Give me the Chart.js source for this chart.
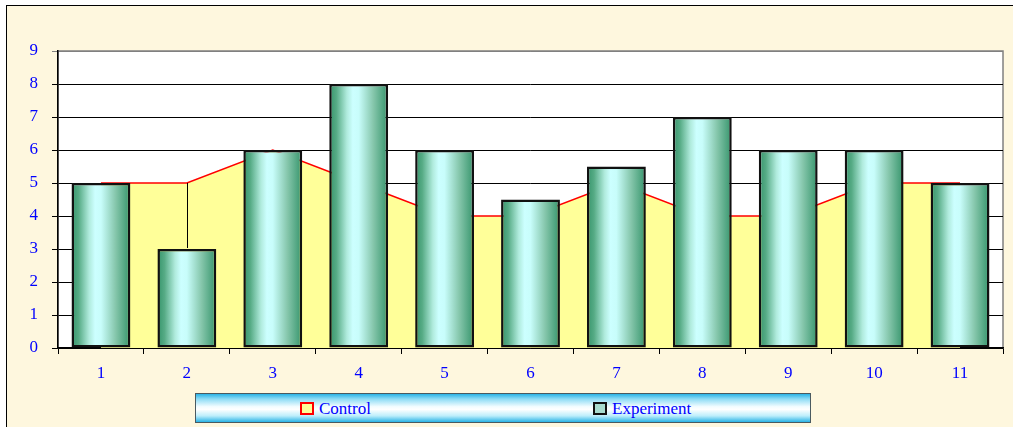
<!DOCTYPE html>
<html>
<head>
<meta charset="utf-8">
<script src="https://cdn.jsdelivr.net/npm/chart.js@4/dist/chart.umd.min.js"></script>
<style>
    body { margin: 0; background: #ffffff; overflow: hidden; }
    #frame {
        position: absolute; left: 6px; top: 5px; width: 1020px; height: 440px;
        border-top: 1px solid #000; border-left: 1px solid #000;
        background: #fef7de;
    }
    #chart { position: absolute; left: 0; top: 0; }
    #legend {
        position: absolute; left: 195px; top: 393px; width: 614px; height: 28px;
        border: 1px solid #4a5a60;
        background: linear-gradient(to bottom, #2ab3e6 0%, #8fdcf5 18%, #f2fcff 45%, #ffffff 55%, #bdeefb 78%, #2ab3e6 100%);
        font-family: 'Liberation Serif', 'Times New Roman', serif;
        font-size: 17px; color: #0000ff;
    }
    .item { position: absolute; top: 5px; line-height: 19px; }
    .swatch { position: absolute; top: 8px; width: 10px; height: 9px; }
</style>
</head>
<body>
<div id="frame"></div>
<canvas id="chart" width="1013" height="427"></canvas>
<div id="legend">
    <div class="swatch" style="left:104px; background:#ffff99; border:2px solid #ff0000;"></div>
    <div class="item" style="left:123px;">Control</div>
    <div class="swatch" style="left:397px; background:#a8dccf; border:2px solid #111;"></div>
    <div class="item" style="left:416px;">Experiment</div>
</div>
<script>
const categories = ['1', '2', '3', '4', '5', '6', '7', '8', '9', '10', '11'];
const controlValues = [5, 5, 6, 5, 4, 4, 5, 4, 4, 5, 5];
const experimentValues = [5, 3, 6, 8, 6, 4.5, 5.5, 7, 6, 6, 5];
const yTicks = [0, 1, 2, 3, 4, 5, 6, 7, 8, 9];

const tickFont = { family: "'Liberation Serif', 'Times New Roman', serif", size: 17 };
const barPct = 0.685;

// cylinder-like shading across each bar
function barGradient(context) {
    const chart = context.chart;
    const xScale = chart.scales.x;
    if (!chart.chartArea || !xScale) return '#8fd0b8';
    const center = xScale.getPixelForValue(context.dataIndex);
    const half = (xScale.width / categories.length) * barPct / 2;
    const g = chart.ctx.createLinearGradient(center - half, 0, center + half, 0);
    g.addColorStop(0, '#35946b');
    g.addColorStop(0.12, '#56ab85');
    g.addColorStop(0.3, '#b0ebdd');
    g.addColorStop(0.4, '#ccffff');
    g.addColorStop(0.5, '#c8fdfb');
    g.addColorStop(0.75, '#85c6ab');
    g.addColorStop(1, '#35946b');
    return g;
}

// white plot area with grey frame
const plotBackground = {
    id: 'plotBackground',
    beforeDraw(chart) {
        const { ctx, chartArea: a } = chart;
        ctx.save();
        ctx.fillStyle = '#ffffff';
        ctx.fillRect(a.left, a.top, a.right - a.left, a.bottom - a.top);
        ctx.strokeStyle = '#808080';
        ctx.lineWidth = 1.5;
        ctx.strokeRect(a.left, a.top, a.right - a.left, a.bottom - a.top);
        ctx.restore();
    }
};

// thin black line between the two series at category 2
const dropLine = {
    id: 'dropLine',
    afterDatasetsDraw(chart) {
        const { ctx, scales } = chart;
        const i = 1;
        const x = Math.round(scales.x.getPixelForValue(i)) + 0.5;
        ctx.save();
        ctx.strokeStyle = '#000';
        ctx.lineWidth = 1;
        ctx.beginPath();
        ctx.moveTo(x, scales.y.getPixelForValue(controlValues[i]));
        ctx.lineTo(x, scales.y.getPixelForValue(experimentValues[i]) - 1);
        ctx.stroke();
        ctx.restore();
    }
};

new Chart(document.getElementById('chart'), {
    type: 'bar',
    data: {
        labels: categories,
        datasets: [
            {
                label: 'Experiment',
                data: experimentValues,
                backgroundColor: barGradient,
                borderColor: '#111',
                borderWidth: 2.5,
                borderSkipped: false,
                barPercentage: barPct,
                categoryPercentage: 1,
                order: 0
            },
            {
                type: 'line',
                label: 'Control',
                data: controlValues,
                borderColor: '#ff0000',
                borderWidth: 1.5,
                backgroundColor: '#ffff99',
                fill: 'origin',
                pointRadius: 0,
                tension: 0,
                order: 1
            }
        ]
    },
    options: {
        responsive: false,
        animation: false,
        layout: { padding: { left: 0, top: 51, right: 10, bottom: 39 } },
        plugins: {
            legend: { display: false },
            tooltip: { enabled: false }
        },
        scales: {
            x: {
                offset: true,
                afterFit: scale => { scale.height = 40; },
                grid: { offset: true, drawOnChartArea: false, tickLength: 6, color: '#000' },
                border: { color: '#000', width: 1.5 },
                ticks: { font: tickFont, color: '#0000ff', padding: 9 }
            },
            y: {
                min: 0,
                max: 9,
                afterFit: scale => { scale.width = 58; },
                afterBuildTicks: scale => { scale.ticks = yTicks.map(v => ({ value: v })); },
                grid: {
                    tickLength: 6,
                    color: ctx => ctx.tick && ctx.tick.value === 9 ? '#808080' : '#000'
                },
                border: { color: '#000', width: 1.5 },
                ticks: { font: tickFont, color: '#0000ff', padding: 14 }
            }
        }
    },
    plugins: [plotBackground, dropLine]
});
</script>
</body>
</html>
